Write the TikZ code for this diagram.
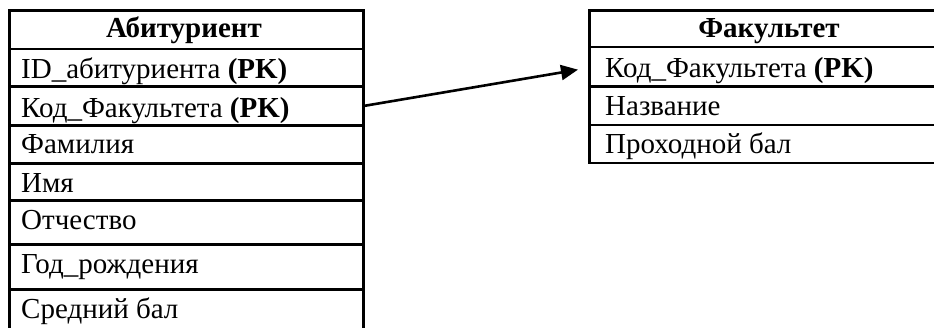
\documentclass[tikz,border=0pt]{standalone}
\usepackage{fontspec}
\setmainfont{Liberation Serif}
\usetikzlibrary{arrows.meta,calc}
\begin{document}
\begin{tikzpicture}[x=1pt,y=-1pt,
  cellbox/.style={draw, line width=2.6pt, anchor=north west, inner sep=0pt, minimum width=#1},
  txt/.style={anchor=base west, inner sep=0pt, font=\fontsize{29}{31}\selectfont},
  hdr/.style={anchor=base, inner sep=0pt, font=\fontsize{29}{31}\selectfont\bfseries},
  link/.style={line width=2.6pt, -{Triangle[length=17pt,width=15pt]}}]
\useasboundingbox (0,0) rectangle (934,327);
\clip (0,0) rectangle (934,327);
% left table
\node[cellbox=354, minimum height=38.5] (aH) at (8,9) {};
\node[cellbox=354, minimum height=37.5] (a1) at (8,47.5) {};
\node[cellbox=354, minimum height=39] (a2) at (8,85) {};
\node[cellbox=354, minimum height=38] (a3) at (8,124) {};
\node[cellbox=354, minimum height=37] (a4) at (8,162) {};
\node[cellbox=354, minimum height=44] (a5) at (8,199) {};
\node[cellbox=354, minimum height=45] (a6) at (8,243) {};
\node[cellbox=354, minimum height=60] (a7) at (8,288) {};
\node[hdr] (aHt) at (184,37) {Абитуриент};
\node[txt] (a1t) at (21,78) {ID\_абитуриента \textbf{(PK)}};
\node[txt] (a2t) at (21,117) {Код\_Факультета \textbf{(PK)}};
\node[txt] (a3t) at (21,153) {Фамилия};
\node[txt] (a4t) at (21,192) {Имя};
\node[txt] (a5t) at (21,229) {Отчество};
\node[txt] (a6t) at (21,273) {Год\_рождения};
\node[txt] (a7t) at (21,318) {Средний бал};
% right table
\node[cellbox=362, minimum height=36.7] (bH) at (588,9) {};
\node[cellbox=362, minimum height=39.3] (b1) at (588,45.7) {};
\node[cellbox=362, minimum height=38.5] (b2) at (588,85) {};
\node[cellbox=362, minimum height=38.2] (b3) at (588,123.5) {};
\node[hdr] (bHt) at (769,37) {Факультет};
\node[txt] (b1t) at (605,77) {Код\_Факультета \textbf{(PK)}};
\node[txt] (b2t) at (605,115) {Название};
\node[txt] (b3t) at (605,153) {Проходной бал};
% connector
\draw[link] (a2.east) -- ($(b1.west)+(-10,3)$);
\end{tikzpicture}
\end{document}
